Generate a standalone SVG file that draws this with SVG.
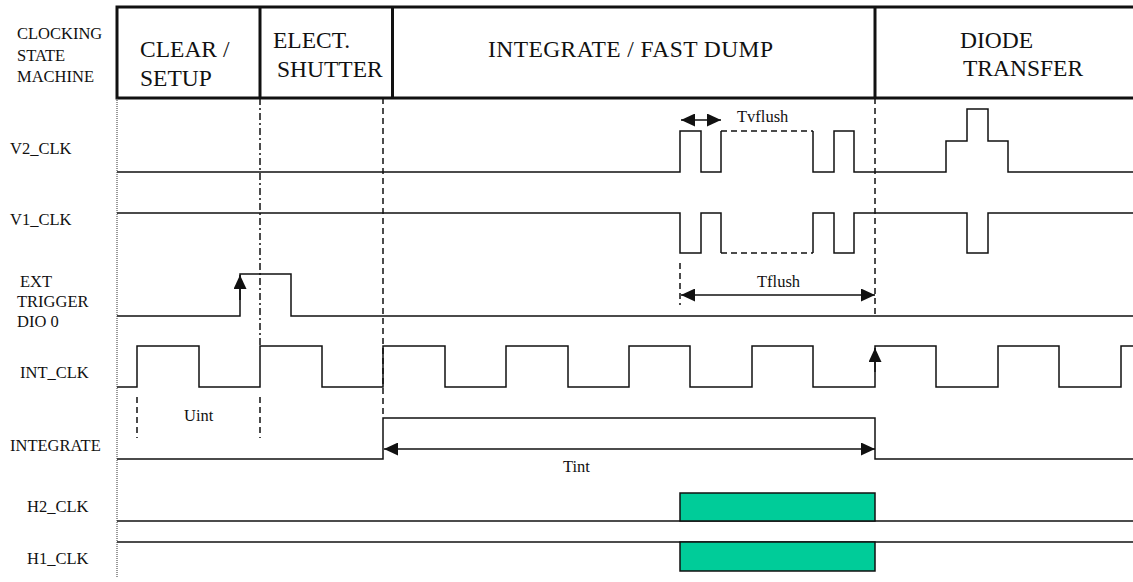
<svg xmlns="http://www.w3.org/2000/svg" width="1133" height="582" viewBox="0 0 1133 582">
<style>
text{font-family:"Liberation Serif","Times New Roman",serif;fill:#111}
.lbl{font-size:16.5px}
.big{font-size:23.5px}
.sig{fill:none;stroke:#111;stroke-width:1.5}
.dash{fill:none;stroke:#111;stroke-width:1.5;stroke-dasharray:6 4}
.dashdot{fill:none;stroke:#111;stroke-width:1.5;stroke-dasharray:7 3 2 3}
.dot{fill:none;stroke:#333;stroke-width:1;stroke-dasharray:1 1}
.arr{fill:none;stroke:#111;stroke-width:1.5}
.hd{fill:none;stroke:#111;stroke-width:3}
.burst{fill:#00CC99;stroke:#111;stroke-width:1.5}
</style>
<defs>
<marker id="ah" markerUnits="userSpaceOnUse" markerWidth="15" markerHeight="13" refX="14" refY="6.5" orient="auto-start-reverse">
<path d="M0,0 L14,6.5 L0,13 z" fill="#111"/>
</marker>
</defs>
<rect width="1133" height="582" fill="#fff"/>

<g id="state-machine">
<rect class="hd" x="117" y="7" width="1030" height="91"/>
<line class="hd" x1="260" y1="7" x2="260" y2="98"/>
<line class="hd" x1="392.5" y1="7" x2="392.5" y2="98"/>
<line class="hd" x1="875" y1="7" x2="875" y2="98"/>
<text class="lbl" x="17" y="39">CLOCKING</text>
<text class="lbl" x="17" y="61">STATE</text>
<text class="lbl" x="17" y="82">MACHINE</text>
<text class="big" x="140" y="57">CLEAR /</text>
<text class="big" x="140" y="86">SETUP</text>
<text class="big" x="273" y="48">ELECT.</text>
<text class="big" x="277" y="77">SHUTTER</text>
<text class="big" x="488" y="57" textLength="285" lengthAdjust="spacing">INTEGRATE / FAST DUMP</text>
<text class="big" x="960" y="48">DIODE</text>
<text class="big" x="963" y="76">TRANSFER</text>
</g>

<g id="v2-clk">
<text class="lbl" x="10" y="154">V2_CLK</text>
<polyline class="sig" points="117,172 680,172 680,131 701,131 701,172 721,172 721,131"/>
<line class="dash" x1="721" y1="131" x2="813" y2="131"/>
<polyline class="sig" points="813,131 813,172 834,172 834,131 854,131 854,172 946,172 946,141 967,141 967,109 988,109 988,141 1008,141 1008,172 1140,172"/>
</g>

<g id="v1-clk">
<text class="lbl" x="10" y="225">V1_CLK</text>
<polyline class="sig" points="117,213 680,213 680,253 701,253 701,213 721,213 721,253"/>
<line class="dash" x1="721" y1="253" x2="813" y2="253"/>
<polyline class="sig" points="813,253 813,213 834,213 834,253 854,253 854,213 967,213 967,253 988,253 988,213 1140,213"/>
</g>

<g id="ext-trigger">
<text class="lbl" x="20" y="287">EXT</text>
<text class="lbl" x="17" y="307">TRIGGER</text>
<text class="lbl" x="17" y="327">DIO 0</text>
<polyline class="sig" points="117,316 240,316 240,274 291,274 291,316 1140,316"/>
</g>

<g id="int-clk">
<text class="lbl" x="20" y="378">INT_CLK</text>
<polyline class="sig" points="117,387 137,387 137,346 199,346 199,387 260,387 260,346 322,346 322,387 383,387 383,346 445,346 445,387 506,387 506,346 568,346 568,387 629,387 629,346 690,346 690,387 752,387 752,346 813,346 813,387 875,387 875,346 936,346 936,387 998,387 998,346 1059,346 1059,387 1121,387 1121,346 1140,346"/>
</g>

<g id="integrate">
<text class="lbl" x="10" y="451">INTEGRATE</text>
<polyline class="sig" points="117,459 383,459 383,418 875,418 875,459 1140,459"/>
</g>

<g id="h2-clk">
<text class="lbl" x="27" y="512">H2_CLK</text>
<line class="sig" x1="117" y1="521" x2="1140" y2="521"/>
<rect class="burst" x="680" y="493" width="195" height="28"/>
</g>

<g id="h1-clk">
<text class="lbl" x="27" y="564">H1_CLK</text>
<line class="sig" x1="117" y1="542" x2="1140" y2="542"/>
<rect class="burst" x="680" y="542" width="195" height="29"/>
</g>

<g id="connectors">
<line class="dot" x1="117" y1="98" x2="117" y2="577"/>
<line class="dashdot" x1="260" y1="98" x2="260" y2="346"/>
<line class="dash" x1="383" y1="98" x2="383" y2="418"/>
<line class="dash" x1="875" y1="98" x2="875" y2="316"/>
<line class="dash" x1="680" y1="263" x2="680" y2="305"/>
<line class="dash" x1="137" y1="397" x2="137" y2="438"/>
<line class="dash" x1="260" y1="397" x2="260" y2="438"/>
<line class="arr" x1="681" y1="120" x2="721" y2="120" marker-start="url(#ah)" marker-end="url(#ah)"/>
<line class="arr" x1="681" y1="295" x2="875" y2="295" marker-start="url(#ah)" marker-end="url(#ah)"/>
<line class="arr" x1="384" y1="449" x2="875" y2="449" marker-start="url(#ah)" marker-end="url(#ah)"/>
<line class="arr" x1="240" y1="300" x2="240" y2="275" marker-end="url(#ah)"/>
<line class="arr" x1="875" y1="372" x2="875" y2="348" marker-end="url(#ah)"/>
<text class="lbl" x="737" y="122">Tvflush</text>
<text class="lbl" x="757" y="287">Tflush</text>
<text class="lbl" x="184" y="421">Uint</text>
<text class="lbl" x="563" y="472">Tint</text>
</g>
</svg>
